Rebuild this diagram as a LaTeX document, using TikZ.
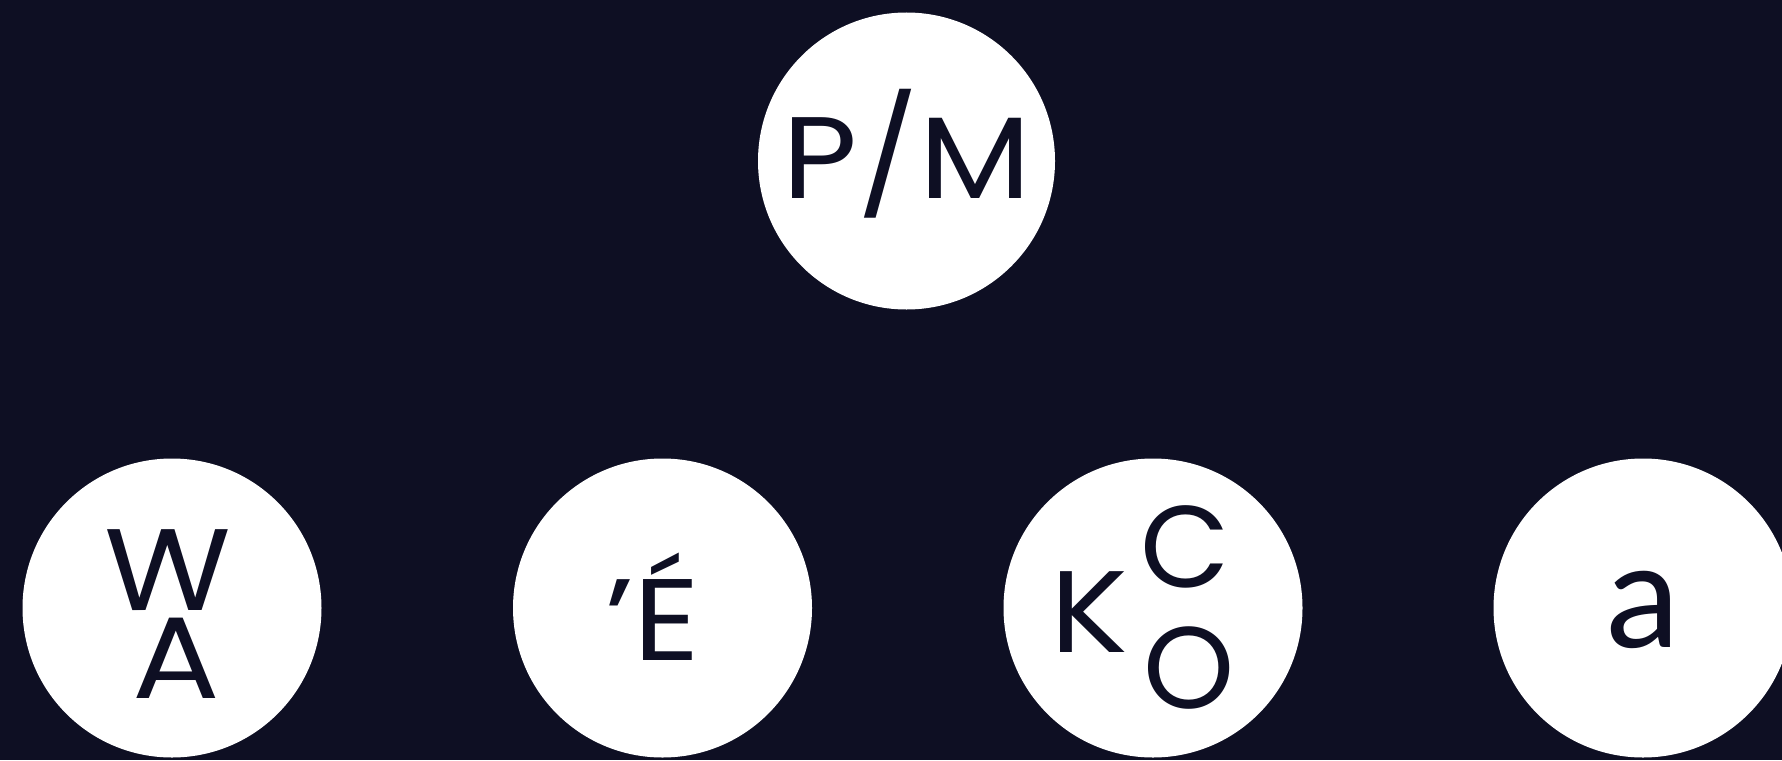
\documentclass[tikz,border=0pt]{standalone}
\usepackage{fontspec}
\setmainfont{Poppins}
\newfontfamily\widefont{Poppins}[FakeStretch=1.12]
\newfontfamily\afont{Lato}
\definecolor{bg}{HTML}{0E0F23}
\definecolor{ink}{HTML}{0E0F23}
\begin{document}
\begin{tikzpicture}[x=1pt,y=-1pt,
  disc/.style={circle,fill=white,draw=none,inner sep=0pt,minimum size=#1},
  glyph/.style={text=ink,anchor=base,inner sep=0pt,text depth=0pt,text height=80pt,font=\fontsize{116}{116}\selectfont},
  wglyph/.style={glyph,font=\widefont\fontsize{116}{116}\selectfont}]
\useasboundingbox (0,0) rectangle (1782,760);
\fill[bg] (0,0) rectangle (1782,760);
\clip (0,0) rectangle (1782,760);
\node[disc=297pt] (pm) at (906.5,161) {};
\node[disc=299pt] (wa) at (172,608) {};
\node[disc=299pt] (e) at (662.5,608) {};
\node[disc=299pt] (kco) at (1153,608) {};
\node[disc=299pt] (a) at (1643,608) {};
\node[wglyph] (tpm) at (907,198) {P/M};
\node[wglyph] (tw) at (167.5,610) {W};
\node[wglyph] (ta) at (176,698) {A};
\node[wglyph] (te) at (653,660) {’É};
\node[wglyph] (tk) at (1089.5,652) {K};
\node[glyph] (tc) at (1185,587) {C};
\node[glyph] (to) at (1189.5,708) {O};
\node[glyph,font=\afont\fontsize{148}{148}\selectfont] (tA) at (1643,647) {a};
\end{tikzpicture}
\end{document}
